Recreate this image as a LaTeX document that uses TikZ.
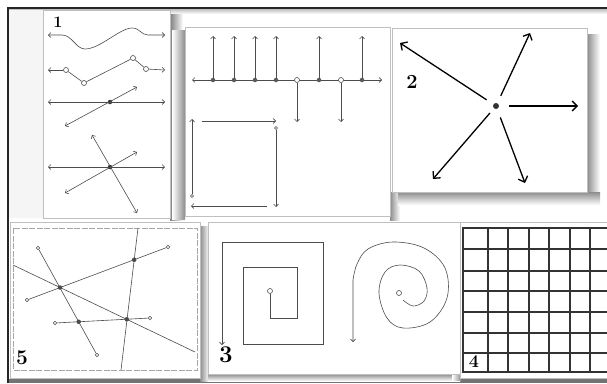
\documentclass[tikz,border=0pt]{standalone}
\usetikzlibrary{arrows.meta}
\begin{document}
\begin{tikzpicture}[x=1pt,y=-1pt,
 panel/.style={fill=white,draw=black!25,line width=0.5pt},
 vec/.style={line width=0.6pt,draw=black!70,>={Straight Barb[length=2.5pt,width=5pt]}},
 bigvec/.style={->,line width=1.3pt,>={Straight Barb[length=5pt,width=10pt]}},
 dot/.style={circle,fill=black!80,inner sep=0pt,minimum size=4.5pt},
 odot/.style={circle,draw=black!70,fill=white,line width=0.6pt,inner sep=0pt,minimum size=5pt},
 gridline/.style={line width=1.1pt,draw=black!80},
 num/.style={font=\bfseries\fontsize{#1}{#1}\selectfont,inner sep=0pt},
 num/.default=18]
\useasboundingbox (0,0) rectangle (607,383);
\fill[white] (0,0) rectangle (607,383);
% outer frame
\fill[black!55] (8,379) rectangle (607,383);
\draw[line width=1.3pt,black!85] (8,383) -- (8,8) -- (607,8);
\shade[top color=black!25,bottom color=white] (9,9) rectangle (607,14);

% shadows
\shade[left color=black!50,right color=white] (170,14) rectangle (183,220);
\shade[left color=white,right color=black!45] (172,30) rectangle (185,219);
\shade[left color=black!45,right color=white] (390,192) rectangle (400,220);
\shade[left color=black!45,right color=white] (587,34) rectangle (600,205);
\shade[top color=black!45,bottom color=white] (398,192) rectangle (600,205);
\shade[left color=black!45,right color=white] (200,226) rectangle (209,381);
\shade[top color=black!45,bottom color=white] (208,374) rectangle (460,381);
\shade[left color=white,right color=black!45] (452,226) rectangle (461,380);

% panels
\fill[black!4] (9,10) rectangle (43,218);
\draw[panel] (43,10) rectangle (170,218);
\draw[panel] (185,27) rectangle (390,216);
\draw[panel] (392,28) rectangle (587,192);
\draw[panel] (10,222) rectangle (200,378);
\draw[panel] (208,222) rectangle (460,374);
\draw[panel] (460,222) rectangle (607,378);

% panel 1
\node[num=16] (n1) at (58,22) {1};
\draw[vec,<->] (48,35) -- (62,35) .. controls (72,35) and (76,49) .. (85,49)
  .. controls (100,49) and (120,28) .. (132,28) .. controls (140,28) and (141,35) .. (148,35) -- (165,35);
\node[odot] (w1) at (66,70) {};
\node[odot] (w2) at (84,83) {};
\node[odot] (w3) at (133,58) {};
\node[odot] (w4) at (146,69) {};
\coordinate (w0) at (48,70);
\coordinate (w5) at (165,70);
\draw[vec,<-] (w0) -- (w1);
\draw[vec] (w1) -- (w2) -- (w3) -- (w4);
\draw[vec,->] (w4) -- (w5);
\node[dot] (x1) at (110,102) {};
\draw[vec,<->] (48,102) -- (165,102);
\draw[vec,<->] (65,126) -- (137,87);
\node[dot] (x2) at (110,167) {};
\draw[vec,<->] (48,167) -- (165,167);
\draw[vec,<->] (65,193) -- (137,152);
\draw[vec,<->] (92,135) -- (137,213);

% panel with vectors on a line and the square
\draw[vec,<->] (192,80) -- (382,80);
\foreach \px in {213,234,255,276,319,362} {
  \node[dot,fill=black!65] (u\px) at (\px,80) {};
  \draw[vec,->] (u\px) -- (\px,36);
}
\foreach \px in {297,341} {
  \node[odot] (d\px) at (\px,80) {};
  \draw[vec,->] (d\px) -- (\px,122);
}
\node[odot,minimum size=3pt] (s1) at (192,196) {};
\node[odot,minimum size=3pt] (s2) at (276,128) {};
\draw[vec,->] (s1) -- (192,119);
\draw[vec,->] (202,121) -- (276,121);
\draw[vec,->] (s2) -- (276,207);
\draw[vec,->] (267,206) -- (191,206);

% panel 2
\node[dot,minimum size=6pt] (c2) at (496,106) {};
\node[num=20] (n2) at (412,82) {2};
\coordinate (r1) at (400,43);
\coordinate (r2) at (530,33);
\coordinate (r3) at (578,106);
\coordinate (r4) at (433,179);
\coordinate (r5) at (525,183);
\draw[bigvec,shorten <=8pt] (c2) -- (r1);
\draw[bigvec,shorten <=8pt] (c2) -- (r2);
\draw[bigvec,shorten <=10pt] (c2) -- (r3);
\draw[bigvec,shorten <=6pt] (c2) -- (r4);
\draw[bigvec,shorten <=9pt] (c2) -- (r5);

% panel 5
\draw[black!35,line width=0.5pt,dash pattern=on 6pt off 1.5pt] (13,228) rectangle (197,370);
\foreach \nm/\pt in {a1/{38,248},a2/{97,355},c1/{27,300},c2/{168,247},e1/{55,323},e2/{150,318}}
  \node[odot,minimum size=3.5pt] (\nm) at (\pt) {};
\coordinate (b1) at (13,265);
\coordinate (b2) at (195,352);
\coordinate (f1) at (138,228);
\coordinate (f2) at (121,370);
\draw[vec] (a1) -- (a2);
\draw[vec] (b1) -- (b2);
\draw[vec] (c1) -- (c2);
\draw[vec] (f1) -- (f2);
\draw[vec] (e1) -- (e2);
\foreach \nm/\pt in {i1/{60,287.5},i2/{78.7,321.8},i3/{126.8,319.3},i4/{134.2,259.8}}
  \node[dot,fill=black!70] (\nm) at (\pt) {};
\node[num=21] (n5) at (22,358) {5};

% panel 3
\node[odot] (q0) at (270,291) {};
\draw[vec,->] (q0) -- (270,318) -- (297,318) -- (297,267) -- (243,267) -- (243,344)
  -- (323,344) -- (323,242) -- (222,242) -- (222,345);
\node[odot] (o0) at (399,293) {};
\draw[vec,->] (o0) plot[smooth,tension=0.6] coordinates {(403,300) (413,306) (424,301) (427,288)
  (419,271) (400,265) (385,272) (379,293) (387,318) (403,328) (430,322) (447,298)
  (445,268) (424,248) (393,242) (368,249) (357,264) (353,280)} -- (353,342);
\node[num=24] (n3) at (226,355) {3};

% panel 4
\foreach \gy in {228,249,271,291,312,333,353,372}
  \draw[gridline] (462,\gy) -- (607,\gy);
\foreach \gx in {463,488,508,529,549,570,590}
  \draw[gridline] (\gx,227) -- (\gx,373);
\node[num=18] (n4) at (474,362) {4};
\end{tikzpicture}
\end{document}
